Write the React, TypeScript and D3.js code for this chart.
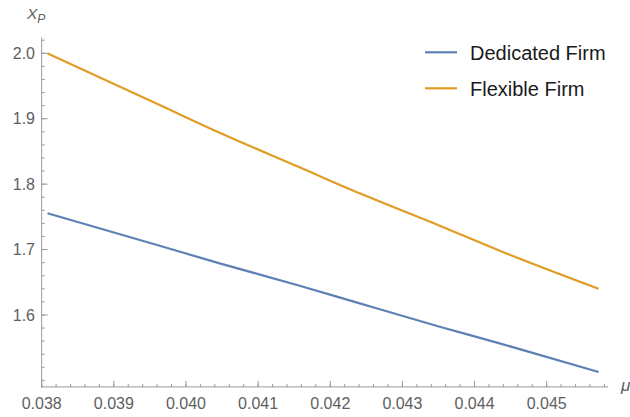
import React from "react";
import * as d3 from "d3";

// Sampled values of the perimeter x_P against the drift rate mu
const muValues = [0.03808, 0.039635, 0.040467, 0.041576, 0.042408, 0.043517, 0.044348, 0.04572];
const dedicatedFirm = [1.7554, 1.7058, 1.6789, 1.6447, 1.6177, 1.582, 1.5566, 1.5127];
const flexibleFirm = [2.0, 1.921, 1.8786, 1.8257, 1.7859, 1.7364, 1.6982, 1.64];

const xMajorTicks = [0.038, 0.039, 0.04, 0.041, 0.042, 0.043, 0.044, 0.045];
const yMajorTicks = [1.6, 1.7, 1.8, 1.9, 2.0];
const seriesNames = ["Dedicated Firm", "Flexible Firm"];
const seriesColors = ["#5E81B5", "#E19C24"];

const W = 630;
const H = 417;

export default function App() {
  const x = d3.scaleLinear().domain([0.038, 0.04585]).range([41.7, 608]);
  const y = d3.scaleLinear().domain([1.49, 2.0245]).range([386.9, 37.3]);

  const x0 = x(0.038);
  const y0 = y(1.49);

  const xMinor = d3.range(0, 40).map((i) => 0.038 + i * 0.0002).filter((v) => v <= 0.04585 + 1e-9);
  const yMinor = d3.range(0, 28).map((i) => 1.5 + i * 0.02).filter((v) => v <= 2.0245);

  const line = d3
    .line<[number, number]>()
    .x((d) => x(d[0]))
    .y((d) => y(d[1]))
    .curve(d3.curveMonotoneX);

  const series = [dedicatedFirm, flexibleFirm].map((vals) =>
    muValues.map((m, i) => [m, vals[i]] as [number, number])
  );

  const axisColor = "#9a9a9a";
  const labelColor = "#606060";
  const font = "'Liberation Sans', Arial, sans-serif";

  return (
    <svg
      width={W}
      height={H}
      style={{ position: "absolute", left: 0, top: 0, background: "#fff" }}
      fontFamily={font}
    >
      {/* data curves */}
      {series.map((pts, i) => (
        <path
          key={seriesNames[i]}
          d={line(pts) || ""}
          fill="none"
          stroke={seriesColors[i]}
          strokeWidth={2.2}
        />
      ))}

      {/* x axis */}
      <line x1={x0} x2={x(0.04585)} y1={y0} y2={y0} stroke={axisColor} strokeWidth={1} />
      {xMinor.map((v) => (
        <line key={"xm" + v} x1={x(v)} x2={x(v)} y1={y0} y2={y0 - 3} stroke={axisColor} />
      ))}
      {xMajorTicks.map((v) => (
        <g key={"xt" + v}>
          <line x1={x(v)} x2={x(v)} y1={y0} y2={y0 - 6} stroke={axisColor} />
          <text x={x(v)} y={408.5} textAnchor="middle" fontSize={16} fill={labelColor}>
            {d3.format(".3f")(v)}
          </text>
        </g>
      ))}
      <text x={621} y={391} fontSize={17} fontStyle="italic" fill={labelColor}>
        μ
      </text>

      {/* y axis */}
      <line x1={x0} x2={x0} y1={y(2.0245)} y2={y0 + 1} stroke={axisColor} strokeWidth={1} />
      {yMinor.map((v) => (
        <line key={"ym" + v} x1={x0} x2={x0 + 3} y1={y(v)} y2={y(v)} stroke={axisColor} />
      ))}
      {yMajorTicks.map((v) => (
        <g key={"yt" + v}>
          <line x1={x0} x2={x0 + 6} y1={y(v)} y2={y(v)} stroke={axisColor} />
          <text x={35} y={y(v)} dy="0.36em" textAnchor="end" fontSize={16} fill={labelColor}>
            {d3.format(".1f")(v)}
          </text>
        </g>
      ))}
      <text x={27} y={19} fontSize={15.5} fontStyle="italic" fill={labelColor}>
        X
        <tspan fontSize={12} dy={4}>
          P
        </tspan>
      </text>

      {/* legend */}
      {seriesNames.map((name, i) => (
        <g key={"lg" + name} transform={`translate(0, ${52.3 + i * 36})`}>
          <line x1={425} x2={457} y1={0} y2={0} stroke={seriesColors[i]} strokeWidth={2.2} />
          <text x={470} y={0} dy="0.36em" fontSize={20} fill="#1a1a1a">
            {name}
          </text>
        </g>
      ))}
    </svg>
  );
}
